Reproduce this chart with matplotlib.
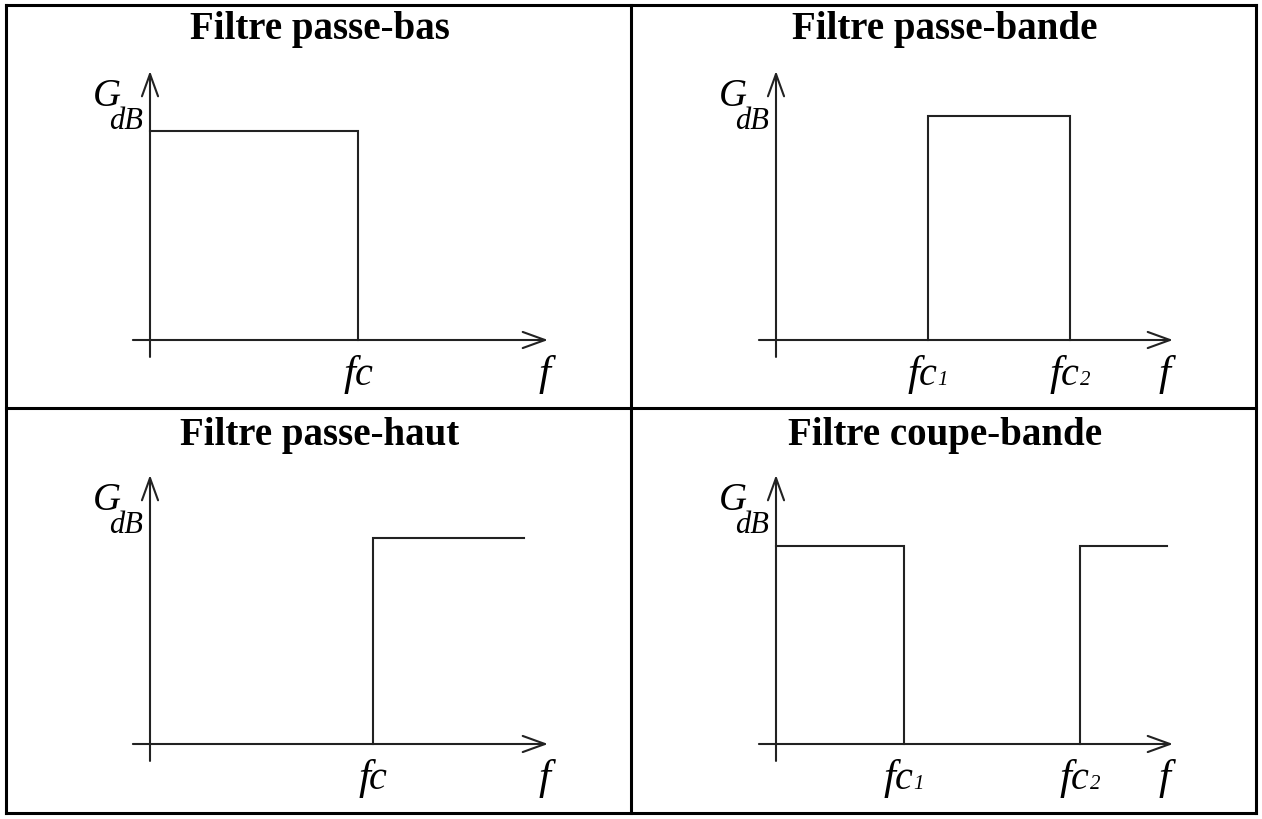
import matplotlib
matplotlib.use("Agg")
import matplotlib.pyplot as plt
from matplotlib.offsetbox import TextArea, HPacker, AnnotationBbox
from matplotlib.lines import Line2D

# ---------------- data (frequency axis 0..100, gain axis 0..100) ----------------
titles = ["Filtre passe-bas", "Filtre passe-bande", "Filtre passe-haut", "Filtre coupe-bande"]

lowpass_f = [0, 52.3, 52.3]
lowpass_g = [77.7, 77.7, 0]

bandpass_f = [38.3, 38.3, 74.1, 74.1]
bandpass_g = [0, 83.3, 83.3, 0]

highpass_f = [56.0, 56.0, 94.0]
highpass_g = [0, 76.6, 76.6]

bandstop_f_low = [0, 32.2, 32.2]
bandstop_g_low = [73.6, 73.6, 0]
bandstop_f_high = [76.6, 76.6, 98.5]
bandstop_g_high = [0, 73.6, 73.6]

lowpass_ticks = [52.3]
lowpass_labels = [("f", "c", "")]
bandpass_ticks = [38.3, 74.1]
bandpass_labels = [("f", "c", "1"), ("f", "c", "2")]
highpass_ticks = [56.0]
highpass_labels = [("f", "c", "")]
bandstop_ticks = [32.2, 76.6]
bandstop_labels = [("f", "c", "1"), ("f", "c", "2")]

x_axis_label = "f"
y_axis_label = ("G", "dB")

# ---------------- figure ----------------
W, H, DPI = 1262, 820, 100
fig = plt.figure(figsize=(W / DPI, H / DPI), dpi=DPI)
fig.patch.set_facecolor("white")

SERIF = "Liberation Serif"
LC = "#222222"
LW = 1.5

# pixel layout of each panel: origin (ox, oy) and arrow tips (tx, ty), title centre
panels = [
    dict(ox=150, oy=341, tx=548, ty=72, tcx=320, tby=39, fdx=-3),
    dict(ox=776, oy=341, tx=1173, ty=72, tcx=945, tby=39, fdx=-8),
    dict(ox=150, oy=745, tx=548, ty=476, tcx=320, tby=445, fdx=-3),
    dict(ox=776, oy=745, tx=1173, ty=476, tcx=945, tby=445, fdx=-8),
]

curves = [
    [(lowpass_f, lowpass_g)],
    [(bandpass_f, bandpass_g)],
    [(highpass_f, highpass_g)],
    [(bandstop_f_low, bandstop_g_low), (bandstop_f_high, bandstop_g_high)],
]
ticks = [lowpass_ticks, bandpass_ticks, highpass_ticks, bandstop_ticks]
tick_labels = [lowpass_labels, bandpass_labels, highpass_labels, bandstop_labels]

PX = 0.72  # points per pixel


def label_box(parts):
    sizes = [31, 29, 15]
    children = []
    for i, (txt, sz) in enumerate(zip(parts, sizes)):
        if txt:
            if i == 2:
                children.append(TextArea("\u2009", textprops=dict(family=SERIF, fontsize=sz)))
            children.append(TextArea(txt, textprops=dict(family=SERIF, style="italic",
                                                         fontsize=sz, color="black")))
    return HPacker(children=children, align="baseline", pad=0, sep=-1)


for p, title, crv, tks, tls in zip(panels, titles, curves, ticks, tick_labels):
    ax = fig.add_axes([p["ox"] / W, 1 - p["oy"] / H,
                       (p["tx"] - p["ox"]) / W, (p["oy"] - p["ty"]) / H])
    ax.set_xlim(0, 100)
    ax.set_ylim(0, 100)
    ax.axis("off")

    arrow = dict(arrowstyle="->,head_length=1.6,head_width=0.58", lw=LW, color=LC,
                 shrinkA=0, shrinkB=0, mutation_scale=10)
    # axes with arrows
    ax.annotate("", xy=(100, 0), xytext=(-4.3, 0), arrowprops=arrow, annotation_clip=False)
    ax.annotate("", xy=(0, 100), xytext=(0, -6.3), arrowprops=arrow, annotation_clip=False)

    # gain curves
    for fx, gy in crv:
        ax.plot(fx, gy, color=LC, lw=LW, solid_joinstyle="miter", clip_on=False)

    # cutoff labels
    for t, parts in zip(tks, tls):
        ab = AnnotationBbox(label_box(parts), (t, 0), xybox=(0, -14 * PX),
                            xycoords="data", boxcoords="offset points",
                            box_alignment=(0.5, 1.0), frameon=False, annotation_clip=False)
        ax.add_artist(ab)

    # f axis label
    ab = AnnotationBbox(label_box((x_axis_label, "", "")), (100, 0),
                        xybox=(p["fdx"] * PX, -14 * PX),
                        xycoords="data", boxcoords="offset points",
                        box_alignment=(0.5, 1.0), frameon=False, annotation_clip=False)
    ax.add_artist(ab)

    # G_dB label
    ax.annotate(y_axis_label[0], xy=(0, 100), xytext=(-29 * PX, -34 * PX),
                textcoords="offset points", ha="right", va="baseline",
                family=SERIF, style="italic", fontsize=28, annotation_clip=False)
    ax.annotate(y_axis_label[1], xy=(0, 100), xytext=(-7 * PX, -57 * PX),
                textcoords="offset points", ha="right", va="baseline",
                family=SERIF, style="italic", fontsize=22, annotation_clip=False)

    # title
    fig.text(p["tcx"] / W, 1 - p["tby"] / H, title, ha="center", va="baseline",
             family=SERIF, weight="bold", fontsize=28)

# ---------------- table borders ----------------
BL, BR, BT, BB, MX, MY = 6, 1256, 6, 814, 631, 409
bw = 2.2
for xs, ys in [((BL, BR), (BT, BT)), ((BL, BR), (BB, BB)), ((BL, BL), (BT, BB)),
               ((BR, BR), (BT, BB)), ((MX, MX), (BT, BB)), ((BL, BR), (MY, MY))]:
    fig.add_artist(Line2D([x / W for x in xs], [1 - y / H for y in ys], color="black",
                          lw=bw, solid_capstyle="projecting", transform=fig.transFigure))

fig.savefig("out.png", dpi=DPI, facecolor="white")
